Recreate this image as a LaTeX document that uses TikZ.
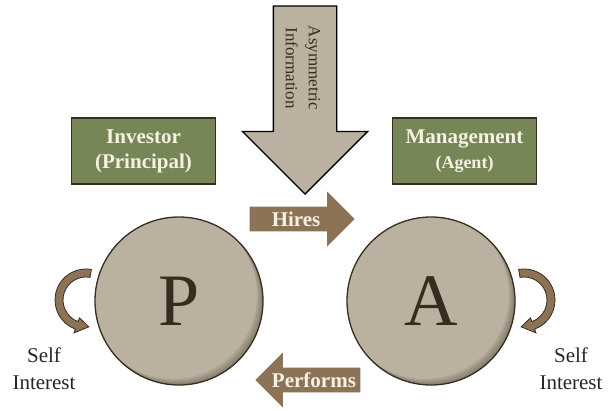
\documentclass[tikz,border=0pt]{standalone}
\usepackage{fontspec}
\setmainfont{Liberation Serif}
\usetikzlibrary{shapes}

\definecolor{pebble}{RGB}{187,177,160}
\definecolor{bark}{RGB}{140,115,85}
\definecolor{moss}{RGB}{118,134,87}
\definecolor{umber}{RGB}{55,45,30}
\definecolor{cream}{RGB}{246,241,228}

\begin{document}
\begin{tikzpicture} [x=1pt, y=1pt, node distance=252pt,
  party/.style={circle, draw=umber, line width=1.3pt, fill=pebble, minimum size=168pt, text=umber, font=\fontsize{74}{74}\selectfont,
    path picture={\foreach \s in {1.5,3,4.5,6} \fill[umber, opacity=.1, even odd rule] (path picture bounding box.center) circle[radius=100pt] ([shift={(-\s pt,\s pt)}]path picture bounding box.center) circle[radius=84pt];}},
  role/.style={rectangle, draw=umber, line width=1.3pt, fill=moss, text=cream, align=center, minimum width=144pt, minimum height=66pt, font=\bfseries\fontsize{21}{25}\selectfont},
  deal/.style={single arrow, fill=bark, text=cream, anchor=tip, single arrow head extend=13.5pt, minimum width=55pt, minimum height=105pt, font=\bfseries\fontsize{21}{21}\selectfont},
  selfarrow/.style={fill=bark, draw=umber, line width=0.8pt},
  note/.style={align=center, text=black!85, font=\fontsize{21}{27}\selectfont}]
  \useasboundingbox (0,0) rectangle (612,410);
  % Parties
  \node [party] (P) at (179,109) {P};
  \node [party, right of=P] (A) {A};
  \node [role] (investor) at (143.5,259) {Investor\\(Principal)};
  \node [role, right of=investor, node distance=321pt] (manager) {Management\\{\fontsize{18}{21}\selectfont(Agent)}};
  % Information gap
  \node [single arrow, rotate=-90, anchor=tip, draw=black, line width=1.3pt, fill=pebble, inner xsep=0pt, inner ysep=31pt, single arrow head extend=31pt, minimum width=124pt, minimum height=188pt] (info) at (305,215) {};
  \node [rotate=-90, align=center, text=umber, font=\fontsize{17}{23}\selectfont] (infotext) at (303,342) {Asymmetric\\Information};
  % Contract and effort
  \node [deal] (hires) at (355,191) {Hires};
  \node [deal, shape border rotate=180] (performs) at (255,30) {Performs};
  % Self interest loops
  \draw [selfarrow, shift={(86,110)}] (80:31) arc[start angle=80, end angle=250, radius=31] -- (250:35) -- (276:27) -- (250:19) -- (250:23) arc[start angle=250, end angle=80, radius=23] -- cycle;
  \draw [selfarrow, shift={(524,110)}] (100:31) arc[start angle=100, end angle=-70, radius=31] -- (-70:35) -- (-96:27) -- (-70:19) -- (-70:23) arc[start angle=-70, end angle=100, radius=23] -- cycle;
  \node [note] (selfP) at (44,41) {Self\\Interest};
  \node [note] (selfA) at (571,41) {Self\\Interest};
\end{tikzpicture}
\end{document}
